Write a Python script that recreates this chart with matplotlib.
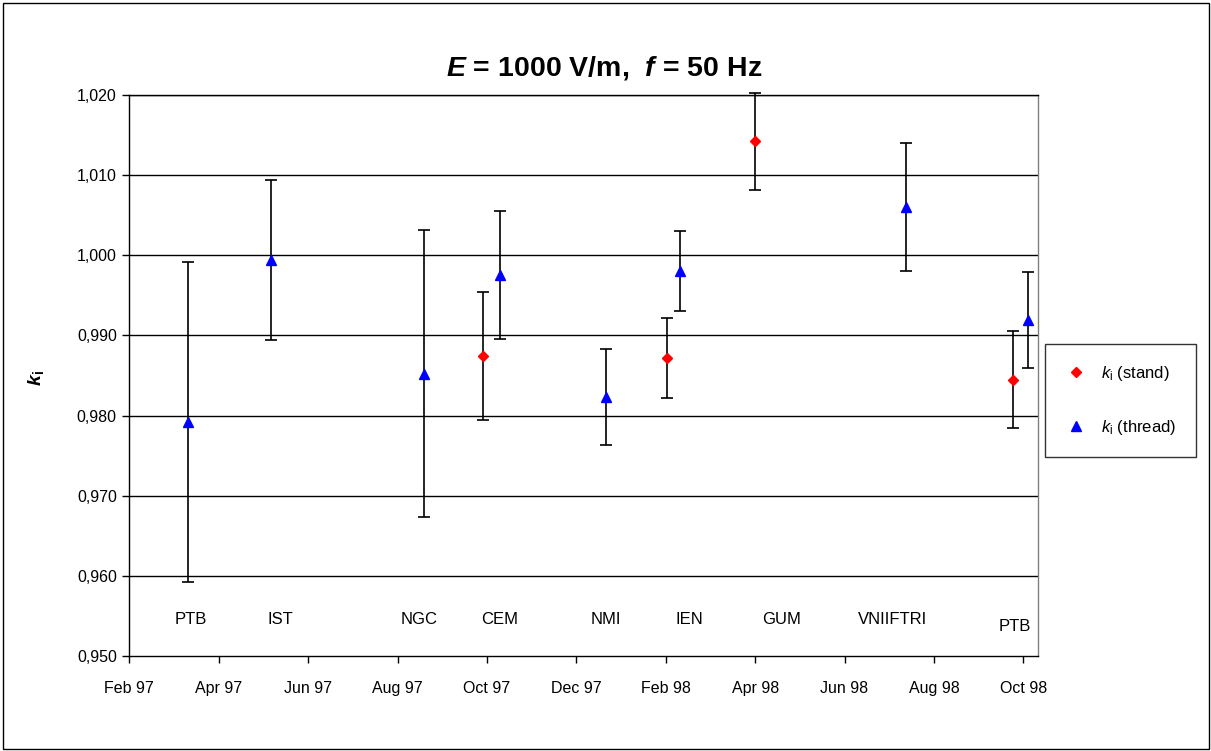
import matplotlib
matplotlib.use("Agg")
import matplotlib.pyplot as plt
import matplotlib.dates as mdates
from matplotlib.ticker import FuncFormatter
from matplotlib.patches import Rectangle
from matplotlib.lines import Line2D
from datetime import date, timedelta

# ---------------- data ----------------
stand_dates = ["1997-09-30", "1998-02-03", "1998-04-04", "1998-09-27"]
stand_vals = [0.9874, 0.9872, 1.0142, 0.9845]
stand_err = [0.0080, 0.0050, 0.0060, 0.0060]

thread_dates = ["1997-03-13", "1997-05-09", "1997-08-21", "1997-10-12",
                "1997-12-23", "1998-02-12", "1998-07-16", "1998-10-07"]
thread_vals = [0.9792, 0.9994, 0.9852, 0.9975, 0.9823, 0.9980, 1.0060, 0.9919]
thread_err = [0.0200, 0.0100, 0.0179, 0.0080, 0.0060, 0.0050, 0.0080, 0.0060]

lab_names = ["PTB", "IST", "NGC", "CEM", "NMI", "IEN", "GUM", "VNIIFTRI", "PTB"]
lab_dates = ["1997-03-15", "1997-05-15", "1997-08-18", "1997-10-12", "1997-12-23",
             "1998-02-18", "1998-04-22", "1998-07-07", "1998-09-28"]
lab_y = [0.9545, 0.9545, 0.9545, 0.9545, 0.9545, 0.9545, 0.9545, 0.9545, 0.9537]

y_ticks = [0.950, 0.960, 0.970, 0.980, 0.990, 1.000, 1.010, 1.020]
x_start = date(1997, 2, 1)
x_step_days = 61
x_span_days = 620

# ---------------- style ----------------
plt.rcParams['font.family'] = ['Liberation Sans', 'DejaVu Sans']
plt.rcParams['mathtext.fontset'] = 'custom'
plt.rcParams['mathtext.rm'] = 'Liberation Sans'
plt.rcParams['mathtext.it'] = 'Liberation Sans:italic'
plt.rcParams['mathtext.bf'] = 'Liberation Sans:bold'
try:
    plt.rcParams['mathtext.bfit'] = 'Liberation Sans:italic:bold'
    bfit_ok = True
except Exception:
    bfit_ok = False

W, H = 1211, 751
fig = plt.figure(figsize=(W / 100, H / 100), dpi=100)
ax = fig.add_axes([129.3 / W, 1 - 656 / H, (1038 - 129.3) / W, (656 - 95) / H])

def to_dt(lst):
    return [mdates.datestr2num(s) for s in lst]

sx = to_dt(stand_dates)
tx = to_dt(thread_dates)

for yv in y_ticks[1:]:
    ax.axhline(yv, color='black', lw=1.0, zorder=1)

for xs, vs, es in ((sx, stand_vals, stand_err), (tx, thread_vals, thread_err)):
    cont = ax.errorbar(xs, vs, yerr=es, fmt='none', ecolor='black',
                       elinewidth=1.2, capsize=4.5, capthick=1.2, zorder=2)
    for art in cont.get_children():
        art.set_clip_on(False)

ax.plot(sx, stand_vals, linestyle='none', marker='D', ms=5.5, color='#ff0000',
        mec='#ff0000', zorder=3, clip_on=False)
ax.plot(tx, thread_vals, linestyle='none', marker='^', ms=7.5, color='#0000ff',
        mec='#0000ff', zorder=3, clip_on=False)

for name, d, yy in zip(lab_names, to_dt(lab_dates), lab_y):
    ax.text(d, yy, name, ha='center', va='center', fontsize=12)

x0 = mdates.date2num(x_start)
ax.set_xlim(x0, x0 + x_span_days)
ax.set_xticks([mdates.date2num(x_start + timedelta(days=x_step_days * k)) for k in range(11)])
ax.xaxis.set_major_formatter(mdates.DateFormatter('%b %y'))
ax.set_ylim(0.950, 1.020)
ax.set_yticks(y_ticks)
ax.yaxis.set_major_formatter(FuncFormatter(lambda v, p: f"{v:.3f}".replace('.', ',')))
ax.tick_params(axis='both', direction='out', length=5, width=1, labelsize=11.5, color='black')
ax.tick_params(axis='x', pad=13)
ax.tick_params(axis='y', pad=4)

for s in ['left', 'bottom', 'top']:
    ax.spines[s].set_color('black')
    ax.spines[s].set_linewidth(1.0)
ax.spines['right'].set_color('#808080')
ax.spines['right'].set_linewidth(1.0)

if bfit_ok:
    ylab = r"$\mathbfit{k}_{\mathbf{i}}$"
    ttl = r"$\mathbfit{E}$ = 1000 V/m,  $\mathbfit{f}$ = 50 Hz"
else:
    ylab = r"$\mathbf{k}_{\mathbf{i}}$"
    ttl = r"$\mathbf{E}$ = 1000 V/m,  $\mathbf{f}$ = 50 Hz"
fig.text(36 / W, 1 - 378 / H, ylab, rotation=90, ha='center', va='center', fontsize=14)
fig.text(604 / W, 1 - 68 / H, ttl, ha='center', va='center', fontsize=20.5, fontweight='bold')

handles = [Line2D([], [], linestyle='none', marker='D', ms=5, color='#ff0000'),
           Line2D([], [], linestyle='none', marker='^', ms=7, color='#0000ff')]
labels = [r"$k_{\mathrm{i}}$ (stand)", r"$k_{\mathrm{i}}$ (thread)"]
leg = ax.legend(handles, labels, loc='upper left',
                bbox_to_anchor=(1045 / W, 1 - 344 / H), bbox_transform=fig.transFigure,
                frameon=True, fancybox=False, edgecolor='black', fontsize=12,
                borderpad=1.2, labelspacing=2.1, handlelength=1.3, handletextpad=0.85,
                borderaxespad=0)
leg.get_frame().set_linewidth(1.0)

fig.patches.append(Rectangle((2.5 / W, 2.5 / H), (W - 5) / W, (H - 5) / H,
                             transform=fig.transFigure, fill=False,
                             edgecolor='black', linewidth=1.0))

fig.savefig("out.png", dpi=100)
